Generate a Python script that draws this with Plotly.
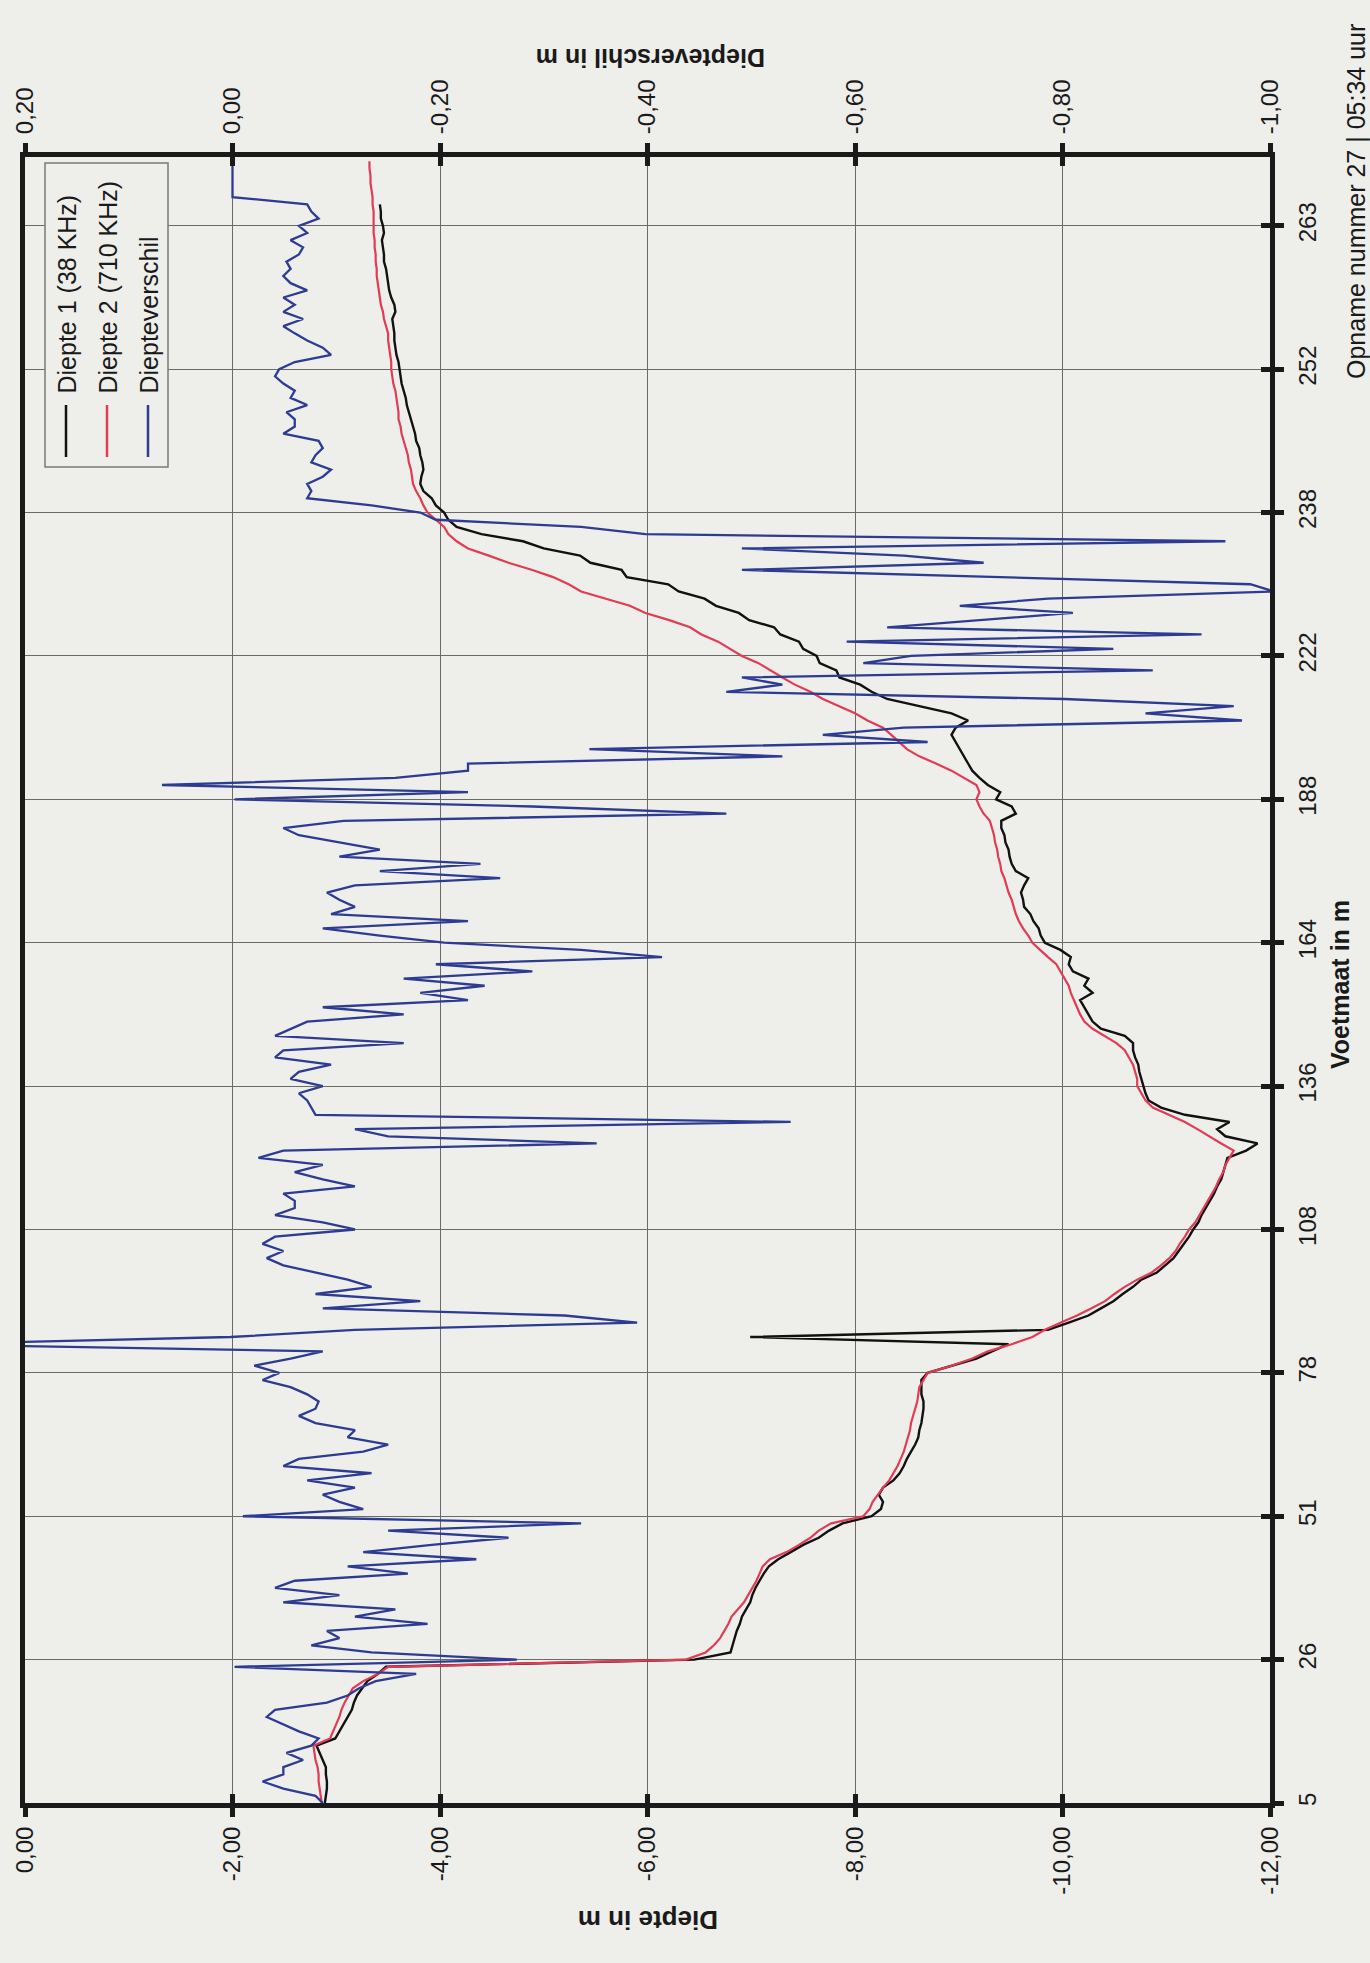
import plotly.graph_objects as go

# Voetmaat tick labels (every 20th point along the track)
voetmaat_labels = ["5", "26", "51", "78", "108", "136", "164", "188", "222", "238", "252", "263"]

depth_ticks = [0, -2, -4, -6, -8, -10, -12]
depth_ticktext = ["0,00", "-2,00", "-4,00", "-6,00", "-8,00", "-10,00", "-12,00"]
diff_ticks = [0.2, 0.0, -0.2, -0.4, -0.6, -0.8, -1.0]
diff_ticktext = ["0,20", "0,00", "-0,20", "-0,40", "-0,60", "-0,80", "-1,00"]

# Diepte 1 (38 KHz) in m
diepte1 = [
    -2.89, -2.90, -2.91, -2.91, -2.90, -2.90, -2.87, -2.84, -2.81, -2.99,
    -3.03, -3.07, -3.11, -3.15, -3.17, -3.20, -3.25, -3.30, -3.40, -3.48,
    -6.45, -6.80, -6.82, -6.84, -6.86, -6.89, -6.91, -6.95, -6.99, -7.01,
    -7.04, -7.08, -7.12, -7.17, -7.26, -7.38, -7.50, -7.65, -7.75, -7.88,
    -8.16, -8.25, -8.27, -8.23, -8.27, -8.37, -8.43, -8.47, -8.50, -8.54,
    -8.58, -8.61, -8.62, -8.64, -8.65, -8.66, -8.66, -8.64, -8.64, -8.64,
    -8.70, -8.93, -9.17, -9.32, -9.48, -6.99, -9.86, -10.06, -10.25, -10.37,
    -10.49, -10.58, -10.68, -10.76, -10.91, -10.99, -11.07, -11.12, -11.17, -11.22,
    -11.26, -11.31, -11.34, -11.38, -11.42, -11.46, -11.49, -11.53, -11.55, -11.57,
    -11.59, -11.77, -11.88, -11.57, -11.49, -11.61, -11.18, -10.95, -10.83, -10.80,
    -10.78, -10.76, -10.74, -10.73, -10.70, -10.68, -10.68, -10.60, -10.37, -10.29,
    -10.25, -10.21, -10.17, -10.29, -10.21, -10.25, -10.10, -10.06, -10.08, -9.98,
    -9.83, -9.79, -9.77, -9.72, -9.69, -9.63, -9.62, -9.60, -9.63, -9.67,
    -9.55, -9.51, -9.49, -9.48, -9.45, -9.44, -9.41, -9.41, -9.55, -9.51,
    -9.36, -9.40, -9.28, -9.20, -9.13, -9.09, -9.05, -9.01, -8.97, -8.93,
    -8.97, -9.09, -8.93, -8.62, -8.31, -8.16, -8.05, -7.85, -7.82, -7.66,
    -7.63, -7.50, -7.46, -7.28, -7.22, -6.98, -6.88, -6.66, -6.55, -6.30,
    -6.20, -5.80, -5.75, -5.45, -5.35, -5.00, -4.80, -4.40, -4.16, -4.08,
    -4.04, -3.96, -3.92, -3.84, -3.81, -3.82, -3.84, -3.83, -3.81, -3.80,
    -3.77, -3.76, -3.74, -3.72, -3.70, -3.68, -3.67, -3.65, -3.63, -3.62,
    -3.61, -3.60, -3.58, -3.57, -3.56, -3.56, -3.55, -3.54, -3.57, -3.56,
    -3.53, -3.51, -3.50, -3.49, -3.48, -3.46, -3.46, -3.45, -3.44, -3.46,
    -3.45, -3.43, -3.43, -3.42, None, None, None, None, None, None,
]

# Diepte 2 (710 KHz) in m
diepte2 = [
    -2.86, -2.85, -2.84, -2.83, -2.83, -2.82, -2.80, -2.79, -2.78, -2.94,
    -2.97, -3.00, -3.03, -3.05, -3.08, -3.12, -3.16, -3.26, -3.40, -3.50,
    -6.37, -6.56, -6.64, -6.70, -6.74, -6.78, -6.81, -6.87, -6.93, -6.97,
    -7.01, -7.05, -7.08, -7.11, -7.18, -7.34, -7.46, -7.57, -7.65, -7.77,
    -8.08, -8.14, -8.17, -8.22, -8.27, -8.33, -8.37, -8.41, -8.44, -8.47,
    -8.49, -8.51, -8.53, -8.54, -8.56, -8.58, -8.60, -8.61, -8.62, -8.66,
    -8.70, -8.93, -9.13, -9.28, -9.51, -9.71, -9.83, -9.98, -10.14, -10.28,
    -10.41, -10.50, -10.60, -10.72, -10.86, -10.95, -11.03, -11.09, -11.13, -11.18,
    -11.22, -11.28, -11.32, -11.36, -11.40, -11.44, -11.48, -11.51, -11.55, -11.57,
    -11.61, -11.65, -11.53, -11.42, -11.30, -11.18, -11.03, -10.87, -10.80, -10.76,
    -10.72, -10.72, -10.70, -10.68, -10.64, -10.60, -10.52, -10.41, -10.29, -10.21,
    -10.17, -10.14, -10.11, -10.08, -10.06, -10.02, -9.98, -9.94, -9.86, -9.79,
    -9.71, -9.67, -9.62, -9.58, -9.55, -9.53, -9.51, -9.48, -9.46, -9.44,
    -9.41, -9.40, -9.38, -9.37, -9.35, -9.34, -9.32, -9.30, -9.24, -9.20,
    -9.17, -9.20, -9.17, -9.05, -8.93, -8.78, -8.62, -8.50, -8.43, -8.35,
    -8.27, -8.12, -8.00, -7.84, -7.69, -7.57, -7.42, -7.30, -7.18, -7.07,
    -6.91, -6.80, -6.68, -6.52, -6.41, -6.21, -5.98, -5.83, -5.59, -5.36,
    -5.24, -5.09, -4.89, -4.66, -4.47, -4.27, -4.16, -4.08, -4.04, -3.96,
    -3.88, -3.84, -3.81, -3.77, -3.74, -3.73, -3.72, -3.70, -3.69, -3.67,
    -3.65, -3.63, -3.62, -3.60, -3.60, -3.59, -3.58, -3.57, -3.55, -3.54,
    -3.53, -3.53, -3.52, -3.51, -3.50, -3.50, -3.48, -3.46, -3.45, -3.43,
    -3.42, -3.41, -3.40, -3.39, -3.39, -3.38, -3.38, -3.37, -3.37, -3.36,
    -3.36, -3.36, -3.36, -3.35, -3.35, -3.34, -3.33, -3.33, -3.32, -3.32,
]

# Diepteverschil in m (secondary axis)
diepteverschil = [
    -0.087, -0.080, -0.049, -0.029, -0.049, -0.049, -0.068, -0.052, -0.076, -0.083,
    -0.064, -0.049, -0.033, -0.041, -0.091, -0.111, -0.122, -0.138, -0.177, -0.002,
    -0.274, -0.134, -0.076, -0.103, -0.091, -0.188, -0.118, -0.157, -0.049, -0.103,
    -0.041, -0.060, -0.169, -0.111, -0.235, -0.126, -0.192, -0.266, -0.150, -0.336,
    -0.010, -0.126, -0.103, -0.087, -0.118, -0.072, -0.134, -0.049, -0.064, -0.126,
    -0.150, -0.111, -0.118, -0.080, -0.064, -0.080, -0.083, -0.072, -0.056, -0.029,
    -0.045, -0.021, -0.056, -0.087, 0.300, 0.002, -0.118, -0.390, -0.320, -0.087,
    -0.181, -0.080, -0.134, -0.111, -0.080, -0.049, -0.033, -0.049, -0.029, -0.041,
    -0.118, -0.087, -0.041, -0.060, -0.060, -0.049, -0.118, -0.087, -0.060, -0.087,
    -0.025, -0.049, -0.351, -0.150, -0.118, -0.538, -0.080, -0.076, -0.072, -0.064,
    -0.087, -0.056, -0.064, -0.095, -0.041, -0.049, -0.165, -0.041, -0.056, -0.072,
    -0.165, -0.087, -0.227, -0.181, -0.243, -0.165, -0.289, -0.196, -0.414, -0.336,
    -0.204, -0.142, -0.087, -0.227, -0.095, -0.118, -0.103, -0.091, -0.118, -0.258,
    -0.142, -0.239, -0.103, -0.142, -0.103, -0.064, -0.049, -0.107, -0.476, -0.289,
    -0.002, -0.227, 0.068, -0.157, -0.227, -0.227, -0.530, -0.344, -0.670, -0.569,
    -0.647, -0.973, -0.880, -0.965, -0.802, -0.476, -0.530, -0.491, -0.887, -0.608,
    -0.654, -0.849, -0.592, -0.934, -0.631, -0.717, -0.810, -0.701, -0.786, -1.004,
    -0.981, -0.740, -0.491, -0.724, -0.647, -0.491, -0.957, -0.398, -0.336, -0.196,
    -0.181, -0.134, -0.072, -0.076, -0.072, -0.087, -0.095, -0.076, -0.080, -0.087,
    -0.083, -0.049, -0.060, -0.060, -0.052, -0.072, -0.056, -0.060, -0.049, -0.041,
    -0.045, -0.060, -0.095, -0.087, -0.072, -0.060, -0.049, -0.068, -0.049, -0.060,
    -0.049, -0.072, -0.056, -0.049, -0.056, -0.052, -0.064, -0.068, -0.056, -0.072,
    -0.064, -0.083, -0.076, -0.072, 0.000, 0.000, 0.000, 0.000, 0.000, 0.000,
]

N = len(diepte2)
idx = list(range(N))
label_step = 20
voetmaat_tickvals = [i * label_step for i in range(len(voetmaat_labels))]

PAPER = "#eeeeea"
INK = "#1a1a1a"
FONT = "Liberation Sans, Arial, sans-serif"
C_BLACK = "#111111"
C_RED = "#e23b55"
C_BLUE = "#2d3b93"

W, H = 1370, 1963
L, R, T, B = 25, 100, 157, 160
PW, PH = W - L - R, H - T - B


def px(xp):
    return (xp - L) / PW


def py(yp):
    return (H - B - yp) / PH


fig = go.Figure()
fig.add_trace(go.Scatter(x=diepteverschil, y=idx, xaxis="x2", yaxis="y", mode="lines",
                         line=dict(color=C_BLUE, width=2.3), name="Diepteverschil"))
fig.add_trace(go.Scatter(x=diepte1, y=idx, xaxis="x", yaxis="y", mode="lines",
                         line=dict(color=C_BLACK, width=2.4), name="Diepte 1 (38 KHz)",
                         connectgaps=False))
fig.add_trace(go.Scatter(x=diepte2, y=idx, xaxis="x", yaxis="y", mode="lines",
                         line=dict(color=C_RED, width=2.2), name="Diepte 2 (710 KHz)"))
# helper traces so the inner tick-mark axes are drawn
fig.add_trace(go.Scatter(x=[None], y=[None], xaxis="x3", yaxis="y", hoverinfo="skip"))
fig.add_trace(go.Scatter(x=[None], y=[None], xaxis="x4", yaxis="y", hoverinfo="skip"))
fig.add_trace(go.Scatter(x=[None], y=[None], xaxis="x", yaxis="y2", hoverinfo="skip"))

tickfont = dict(family=FONT, size=24, color=INK)
common_line = dict(showline=True, linecolor=INK, linewidth=5, zeroline=False,
                   ticks="outside", ticklen=9, tickwidth=5, tickcolor=INK)
inner_ticks = dict(showline=False, showgrid=False, zeroline=False, showticklabels=False,
                   ticks="inside", ticklen=9, tickwidth=5, tickcolor=INK)

fig.update_layout(
    width=W, height=H, autosize=False,
    margin=dict(l=L, r=R, t=T, b=B, pad=0),
    paper_bgcolor=PAPER, plot_bgcolor=PAPER,
    showlegend=False,
    font=dict(family=FONT, color=INK),
    xaxis=dict(range=[0, -12], tickvals=depth_ticks, ticktext=depth_ticktext, tickangle=-90,
               side="bottom", anchor="y", showgrid=True, gridcolor="#6a6a6a", gridwidth=1.2,
               tickfont=tickfont, ticklabelstandoff=0, **common_line),
    xaxis2=dict(range=[0.2, -1.0], tickvals=diff_ticks, ticktext=diff_ticktext, tickangle=-90,
                side="top", anchor="y", overlaying="x", showgrid=False,
                tickfont=tickfont, ticklabelstandoff=4, **common_line),
    xaxis3=dict(range=[0, -12], tickvals=depth_ticks, side="bottom", anchor="y",
                overlaying="x", **inner_ticks),
    xaxis4=dict(range=[0.2, -1.0], tickvals=diff_ticks, side="top", anchor="y",
                overlaying="x", **inner_ticks),
    yaxis=dict(range=[0, 229.6], tickvals=voetmaat_tickvals, ticktext=voetmaat_labels,
               tickangle=-90, side="right", anchor="x", showgrid=True, gridcolor="#6a6a6a",
               gridwidth=1.2, mirror=True, tickfont=tickfont, ticklabelstandoff=3,
               **common_line),
    yaxis2=dict(range=[0, 229.6], tickvals=voetmaat_tickvals, side="right", anchor="x",
                overlaying="y", **inner_ticks),
)

annotations = [
    dict(text="<b>Diepte in m</b>", x=px(648), y=py(1920), textangle=180,
         font=dict(family=FONT, size=26, color=INK)),
    dict(text="<b>Diepteverschil in m</b>", x=px(651), y=py(58), textangle=180,
         font=dict(family=FONT, size=25, color=INK)),
    dict(text="<b>Voetmaat in m</b>", x=px(1340), y=py(985), textangle=-90,
         font=dict(family=FONT, size=25, color=INK)),
    dict(text="Opname nummer 27 | 05:34 uur", x=px(1356), y=py(202), textangle=-90,
         font=dict(family=FONT, size=25, color=INK)),
]

legend_items = [("Diepte 1 (38 KHz)", C_BLACK, 66), ("Diepte 2 (710 KHz)", C_RED, 107),
                ("Diepteverschil", C_BLUE, 148)]
shapes = [dict(type="rect", xref="paper", yref="paper", x0=px(45), x1=px(168),
               y0=py(467), y1=py(163), fillcolor=PAPER, line=dict(color="#7a7a7a", width=1.5),
               layer="above")]
for name, color, xc in legend_items:
    shapes.append(dict(type="line", xref="paper", yref="paper", x0=px(xc), x1=px(xc),
                       y0=py(457), y1=py(405), line=dict(color=color, width=2.5), layer="above"))
    annotations.append(dict(text=name, x=px(xc), y=py(396), textangle=-90,
                            xanchor="center", yanchor="bottom",
                            font=dict(family=FONT, size=25, color=INK)))

for a in annotations:
    a.setdefault("xref", "paper")
    a.setdefault("yref", "paper")
    a.setdefault("showarrow", False)
    a.setdefault("xanchor", "center")
    a.setdefault("yanchor", "middle")
fig.update_layout(annotations=annotations, shapes=shapes)

fig.write_html("out.html", config={"displayModeBar": False},
               post_script="document.body.style.margin='0';document.body.style.background='#eeeeea';")
